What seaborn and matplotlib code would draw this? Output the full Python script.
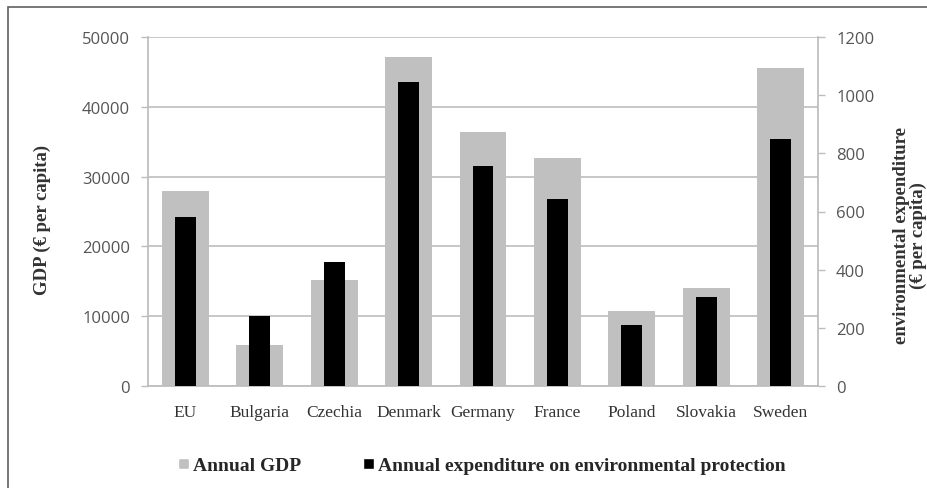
import matplotlib
matplotlib.use("Agg")
import matplotlib.pyplot as plt
from matplotlib.patches import Rectangle, Patch
import seaborn as sns
import pandas as pd

# values
countries = ['EU', 'Bulgaria', 'Czechia', 'Denmark', 'Germany', 'France', 'Poland', 'Slovakia', 'Sweden']
gdp = [28000, 5900, 15200, 47100, 36400, 32700, 10700, 14000, 45500]
env_exp = [581, 240, 427, 1045, 757, 643, 210, 305, 849]

gdp_ticks = [0, 10000, 20000, 30000, 40000, 50000]
exp_ticks = [0, 200, 400, 600, 800, 1000, 1200]

df = pd.DataFrame({'country': countries, 'gdp': gdp, 'env_exp': env_exp})

sns.set_theme(style="white")
serif = ['Liberation Serif', 'DejaVu Serif']
sans = ['Open Sans', 'DejaVu Sans']

fig = plt.figure(figsize=(9.28, 4.89), dpi=100)
ax = fig.add_axes([148 / 928, 1 - 387 / 489, (818 - 148) / 928, (387 - 38) / 489])

sns.barplot(data=df, x='country', y='gdp', color='#c0c0c0', saturation=1,
            width=0.63, linewidth=0, ax=ax, zorder=2)
ax.set_ylim(0, 50000)
ax.set_yticks(gdp_ticks)
ax.yaxis.grid(True, color='#bdbdbd', linewidth=1.2, zorder=0)
ax.set_axisbelow(True)
ax.set_xlabel('')
ax.set_ylabel('')
fig.text(42 / 928, 1 - 220 / 489, 'GDP (€ per capita)', family=serif, fontweight='bold',
         fontsize=13.5, color='#333333', rotation=90, ha='center', va='center')

ax2 = ax.twinx()
sns.barplot(data=df, x='country', y='env_exp', color='black', saturation=1,
            width=0.28, linewidth=0, ax=ax2, zorder=3)
ax2.set_ylim(0, 1200)
ax2.set_yticks(exp_ticks)
ax2.set_ylabel('')
ax2.set_xlabel('')
fig.text(910 / 928, 1 - 236 / 489, 'environmental expenditure\n(€ per capita)', family=serif,
         fontweight='bold', fontsize=13.5, color='#333333', rotation=90,
         ha='center', va='center', linespacing=0.95)

for a in (ax, ax2):
    for s in a.spines.values():
        s.set_visible(False)
    a.tick_params(axis='y', length=5, width=1, color='#bdbdbd', labelsize=12,
                  labelcolor='#555555', pad=8)
    for lab in a.get_yticklabels():
        lab.set_family(sans)
ax.spines['left'].set_visible(True)
ax.spines['left'].set_color('#bdbdbd')
ax.spines['bottom'].set_visible(True)
ax.spines['bottom'].set_color('#bdbdbd')
ax2.spines['right'].set_visible(True)
ax2.spines['right'].set_color('#bdbdbd')

# category labels and boundary ticks on the bottom axis
ax.set_xticks(range(len(countries)))
ax.set_xticklabels(countries, family=serif, fontsize=12.5, color='#333333')
ax.tick_params(axis='x', length=0, pad=13)
ax.set_xticks([i - 0.5 for i in range(len(countries) + 1)], minor=True)
ax.tick_params(axis='x', which='minor', length=5, color='#bdbdbd', width=1)
ax.set_xlim(-0.5, len(countries) - 0.5)

handles = [Patch(facecolor='#c0c0c0', label='Annual GDP'),
           Patch(facecolor='black', label='Annual expenditure on environmental protection')]
fig.legend(handles=handles, loc='center', bbox_to_anchor=(482 / 928, 1 - 467 / 489), ncol=2,
           frameon=False, prop={'family': serif, 'weight': 'bold', 'size': 14},
           handlelength=0.55, handleheight=0.55, handletextpad=0.2, columnspacing=3.2)

fig.add_artist(Rectangle((8 / 928, -0.1), 1.0, 1.1 - 8 / 489, transform=fig.transFigure,
                         fill=False, edgecolor='#606060', linewidth=1.2))

fig.savefig('out.png', dpi=100, facecolor='white')
